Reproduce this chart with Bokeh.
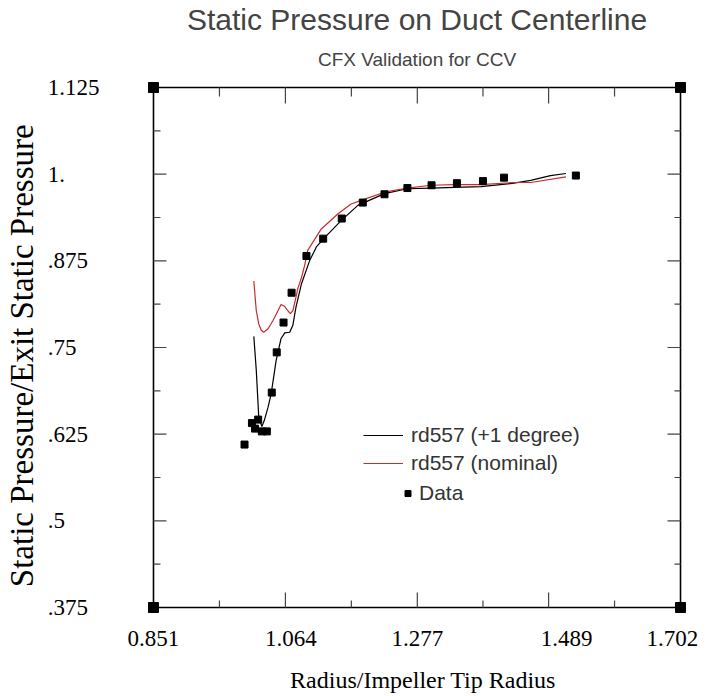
from bokeh.plotting import figure
from bokeh.models import FixedTicker, Legend, LegendItem, Range1d, Title
from bokeh.embed import file_html
from bokeh.resources import INLINE

# ---------------- data ----------------
title_text = "Static Pressure on Duct Centerline"
subtitle_text = "CFX Validation for CCV"
x_title = "Radius/Impeller Tip Radius"
y_title = "Static Pressure/Exit Static Pressure"

x_start, x_end = 0.851, 1.702
y_start, y_end = 0.375, 1.125
# tick marks of the axis box
x_ticks = [0.851, 1.064, 1.277, 1.489, 1.702]
x_minor = [0.9575, 1.1705, 1.383, 1.5955]
# the x tick labels sit a little off their ticks in the original
x_tick_labels = ["0.851", "1.064", "1.277", "1.489", "1.702"]
x_label_pos = [0.851, 1.073, 1.277, 1.518, 1.689]
y_ticks = [0.375, 0.5, 0.625, 0.75, 0.875, 1.0, 1.125]
y_tick_labels = [".375", ".5", ".625", ".75", ".875", "1.", "1.125"]
y_minor = [0.4375, 0.5625, 0.6875, 0.8125, 0.9375, 1.0625]

black_label = "rd557 (+1 degree)"
black_x = [1.013, 1.017, 1.021, 1.026, 1.030, 1.036, 1.041, 1.049, 1.057, 1.063, 1.071,
           1.076, 1.081, 1.090, 1.103, 1.114, 1.127, 1.154, 1.181, 1.224, 1.261, 1.299,
           1.337, 1.380, 1.433, 1.460, 1.492, 1.517]
black_y = [0.766, 0.717, 0.649, 0.636, 0.645, 0.664, 0.683, 0.731, 0.763, 0.771, 0.772,
           0.782, 0.808, 0.842, 0.875, 0.895, 0.908, 0.933, 0.955, 0.972, 0.979, 0.980,
           0.981, 0.982, 0.987, 0.991, 0.998, 1.001]

red_label = "rd557 (nominal)"
red_x = [1.013, 1.017, 1.021, 1.025, 1.029, 1.036, 1.044, 1.052, 1.057, 1.063, 1.068,
         1.072, 1.076, 1.080, 1.084, 1.090, 1.095, 1.100, 1.122, 1.149, 1.170, 1.192,
         1.224, 1.261, 1.299, 1.337, 1.380, 1.433, 1.460, 1.517]
red_y = [0.846, 0.803, 0.784, 0.775, 0.772, 0.777, 0.789, 0.803, 0.812, 0.809, 0.803,
         0.799, 0.803, 0.818, 0.835, 0.851, 0.868, 0.890, 0.921, 0.943, 0.957, 0.964,
         0.974, 0.980, 0.984, 0.985, 0.985, 0.988, 0.988, 0.996]

data_label = "Data"
data_x = [0.998, 1.010, 1.015, 1.020, 1.026, 1.034, 1.042, 1.050, 1.061, 1.074, 1.098,
          1.125, 1.155, 1.189, 1.224, 1.261, 1.300, 1.341, 1.383, 1.417, 1.533]
data_y = [0.610, 0.641, 0.633, 0.646, 0.629, 0.629, 0.685, 0.743, 0.786, 0.829, 0.882,
          0.907, 0.936, 0.959, 0.971, 0.980, 0.984, 0.987, 0.990, 0.995, 0.998]

SERIF = "Liberation Serif"
SANS = "Liberation Sans"
FS = "\u2007"   # figure space

# ---------------- geometry (pixels) ----------------
BOX_W, BOX_H = 528, 520      # size of the drawn axis box
PAD = 6                      # room round the box so corner markers are not clipped
FRAME_W, FRAME_H = BOX_W + 2 * PAD, BOX_H + 2 * PAD
dxp = (x_end - x_start) / BOX_W
dyp = (y_end - y_start) / BOX_H

p = figure(width=715, height=696, title=None,
           x_range=Range1d(x_start - PAD * dxp, x_end + PAD * dxp),
           y_range=Range1d(y_start - PAD * dyp, y_end + PAD * dyp),
           output_backend="svg", toolbar_location=None,
           min_border_left=146, min_border_right=715 - 146 - FRAME_W,
           min_border_top=81, min_border_bottom=696 - 81 - FRAME_H)
p.outline_line_color = None
p.grid.visible = False
p.background_fill_color = "white"
p.border_fill_color = "white"

# axes: only labels (box and ticks drawn as glyphs)
bx = p.xaxis[0]
bx.ticker = FixedTicker(ticks=x_label_pos, minor_ticks=[])
bx.major_label_overrides = {t: s for t, s in zip(x_label_pos, x_tick_labels)}
bx.major_label_text_font = SERIF
bx.major_label_text_font_size = "23px"
bx.major_label_text_color = "black"
bx.major_label_standoff = 11
bx.axis_line_color = None
bx.major_tick_line_color = None
bx.minor_tick_line_color = None
bx.axis_label = FS + x_title
bx.axis_label_text_font = SERIF
bx.axis_label_text_font_style = "normal"
bx.axis_label_text_font_size = "24px"
bx.axis_label_text_color = "black"
bx.axis_label_standoff = 18

# left labels padded with figure spaces so they read as left aligned
widths = [sum(0.25 if c == "." else 0.5 for c in s) for s in y_tick_labels]
wmax = max(widths)
padded = [s + FS * int(round((wmax - w) / 0.5)) for s, w in zip(y_tick_labels, widths)]
ly = p.yaxis[0]
ly.ticker = FixedTicker(ticks=y_ticks, minor_ticks=[])
ly.major_label_overrides = {t: s for t, s in zip(y_ticks, padded)}
ly.major_label_text_font = SERIF
ly.major_label_text_font_size = "23px"
ly.major_label_text_color = "black"
ly.major_label_standoff = 42
ly.axis_line_color = None
ly.major_tick_line_color = None
ly.minor_tick_line_color = None
ly.axis_label = y_title + FS
ly.axis_label_text_font = SERIF
ly.axis_label_text_font_style = "normal"
ly.axis_label_text_font_size = "33px"
ly.axis_label_text_color = "black"
ly.axis_label_standoff = 5

# titles (subtitle nearest the plot)
p.add_layout(Title(text=subtitle_text, align="center", vertical_align="top",
                   text_font=SANS, text_font_size="19px", text_font_style="normal",
                   text_color="#444444", standoff=19), "above")
p.add_layout(Title(text=title_text, align="center", vertical_align="top",
                   text_font=SANS, text_font_size="30px", text_font_style="normal",
                   text_color="#444444", standoff=3), "above")

# ---------------- box and ticks ----------------
p.line([x_start, x_end, x_end, x_start, x_start],
       [y_start, y_start, y_end, y_end, y_start], line_color="black", line_width=1.6)

def vticks(xs, y0, length_px, sign):
    return [dict(x0=x, y0=y0, x1=x, y1=y0 + sign * length_px * dyp) for x in xs]

def hticks(ys, x0, length_px, sign):
    return [dict(x0=x0, y0=y, x1=x0 + sign * length_px * dxp, y1=y) for y in ys]

segs = []
segs += vticks(x_ticks[1:-1], y_start, 15, 1) + vticks(x_minor, y_start, 7, 1)
segs += vticks(x_ticks[1:-1], y_end, 16, -1) + vticks(x_minor, y_end, 9, -1)
segs += hticks(y_ticks[1:-1], x_start, 13, 1) + hticks(y_minor, x_start, 7, 1)
segs += hticks(y_ticks[1:-1], x_end, 13, -1) + hticks(y_minor, x_end, 6, -1)
p.segment(x0=[s["x0"] for s in segs], y0=[s["y0"] for s in segs],
          x1=[s["x1"] for s in segs], y1=[s["y1"] for s in segs],
          line_color="#444444", line_width=1.2)

# corner markers
p.scatter([x_start, x_end, x_start, x_end], [y_start, y_start, y_end, y_end],
          marker="square", size=10, color="black")

# ---------------- series ----------------
r_black = p.line(black_x, black_y, line_color="black", line_width=1.2)
r_red = p.line(red_x, red_y, line_color="#c92a2a", line_width=1.2)
r_data = p.scatter(data_x, data_y, marker="square", size=7, color="black")

# legends
leg1 = Legend(items=[LegendItem(label=black_label, renderers=[r_black]),
                     LegendItem(label=red_label, renderers=[r_red])],
              location=(216, 136), glyph_width=40, glyph_height=28, label_height=28,
              spacing=0, padding=0, margin=0, label_standoff=8,
              border_line_color=None, background_fill_alpha=0,
              label_text_font=SANS, label_text_font_size="21px", label_text_color="#333333")
leg2 = Legend(items=[LegendItem(label=data_label, renderers=[r_data])],
              location=(253, 106), glyph_width=15, glyph_height=28, label_height=28,
              spacing=0, padding=0, margin=0, label_standoff=4,
              border_line_color=None, background_fill_alpha=0,
              label_text_font=SANS, label_text_font_size="21px", label_text_color="#333333")
p.add_layout(leg1)
p.add_layout(leg2)

open("out.html", "w").write(file_html(p, INLINE))
